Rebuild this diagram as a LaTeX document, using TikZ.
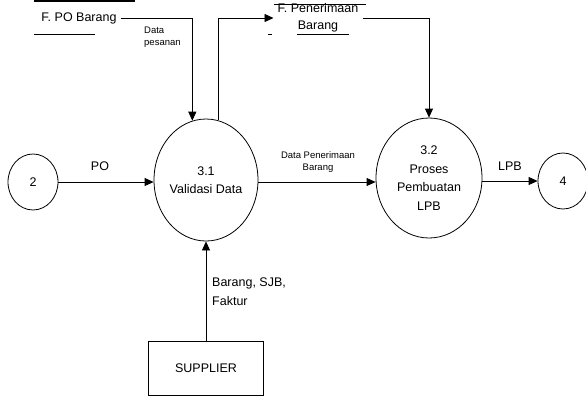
\documentclass[tikz,border=0pt]{standalone}
\usepackage{fontspec}
\setmainfont{Liberation Sans}
\usetikzlibrary{shapes.geometric,arrows.meta}
\begin{document}
\begin{tikzpicture}[x=1pt,y=-1pt,
  proc/.style={ellipse,draw,line width=0.8pt,inner sep=0pt,align=center,font=\fontsize{12.5}{18.5}\selectfont},
  ext/.style={ellipse,draw,line width=0.8pt,inner sep=0pt,minimum width=50pt,minimum height=56pt,font=\fontsize{12.5}{15}\selectfont},
  entity/.style={rectangle,draw,line width=0.8pt,minimum width=115pt,minimum height=54pt,font=\fontsize{12.5}{15}\selectfont},
  store/.style={inner ysep=1pt,inner xsep=4pt,align=center,font=\fontsize{12.5}{16.5}\selectfont},
  flow/.style={draw,line width=0.8pt,-{Triangle[length=9pt,width=8pt]}},
  lbl/.style={inner sep=0pt,font=\fontsize{12.5}{19}\selectfont},
  slbl/.style={inner sep=0pt,align=left,font=\fontsize{9.5}{12.5}\selectfont}]
\useasboundingbox (0,0) rectangle (586,397);
% processes and externals
\node[ext] (e2) at (33,182) {2};
\node[proc,minimum width=104pt,minimum height=122pt] (p31) at (206,180) {3.1\\Validasi Data};
\node[proc,minimum width=106pt,minimum height=120pt] (p32) at (429,178) {3.2\\Proses\\Pembuatan\\LPB};
\node[ext] (e4) at (563,181) {4};
\node[entity] (sup) at (206,368) {SUPPLIER};
% data stores
\node[store] (fpo) at (79,18) {F. PO Barang};
\draw[line width=2.5pt] (34,1) -- (135,1);
\draw[line width=0.8pt] (34,34) -- (95,34);
\node[store] (fpen) at (318,18) {F. Penerimaan\\Barang};
\draw[line width=0.8pt] (274,4) -- (366,4);
\draw[line width=0.8pt] (268,34) -- (272,34);
\draw[line width=0.8pt] (297,34) -- (349,34);
% flows
\draw[flow] (fpo.east) -| (p31.103);
\draw[flow] (p31.78) |- (fpen.west);
\draw[flow] (fpen.east) -| (p32.north);
\draw[flow] (e2.east) -- (p31.west |- e2.east);
\draw[flow] (p31.east |- e2.east) -- (p32.west |- e2.east);
\draw[flow] (p32.east |- e4.west) -- (e4.west);
\draw[flow] (sup.north) -- (p31.south);
% labels
\node[slbl,anchor=west] (lpes) at (144,37) {Data\\pesanan};
\node[lbl] (lpo) at (100,166) {PO};
\node[slbl,align=center] (ldpb) at (318,162) {Data Penerimaan\\Barang};
\node[lbl] (llpb) at (510,166) {LPB};
\node[lbl,anchor=west,align=left] (lbar) at (212,292) {Barang, SJB,\\Faktur};
\end{tikzpicture}
\end{document}
